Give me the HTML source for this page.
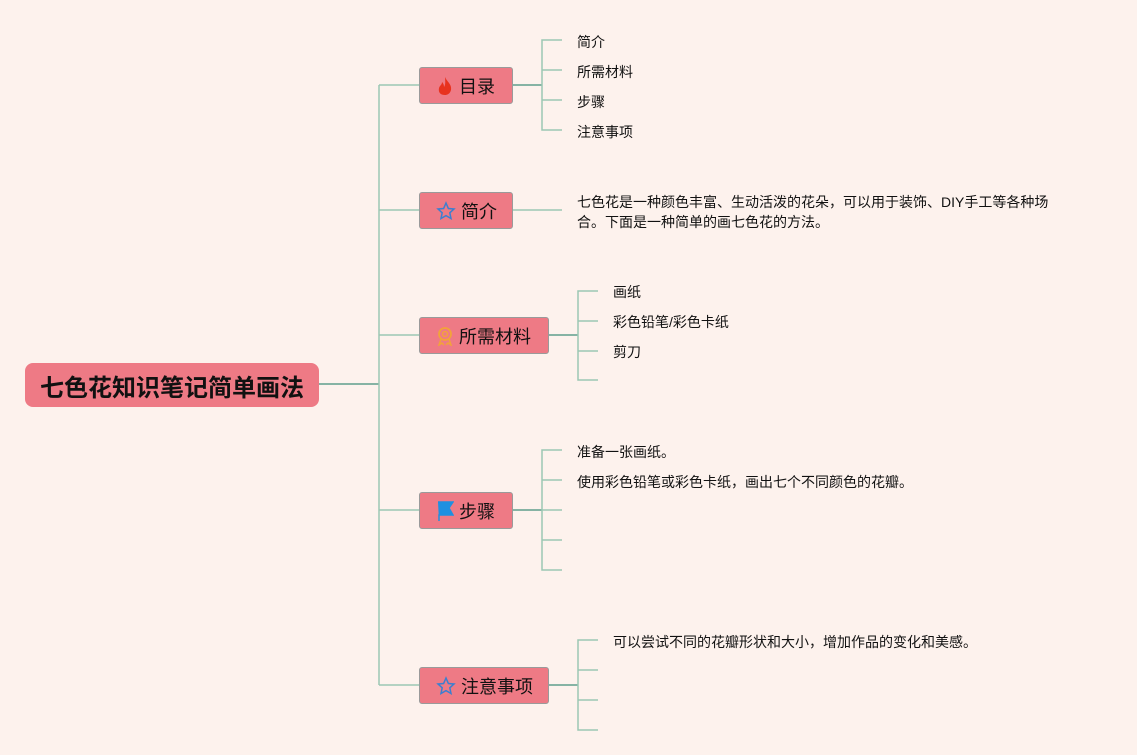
<!DOCTYPE html>
<html><head><meta charset="utf-8"><style>
body{margin:0;width:1137px;height:755px;background:#fdf2ed;position:relative;overflow:hidden;font-family:"Liberation Sans","Noto Sans CJK SC",sans-serif;}
.n{position:absolute;background:#ee7a85;border:1.5px solid #9a9a9a;border-radius:3px;box-sizing:border-box;height:37px;display:flex;align-items:center;padding-left:16px;font-size:18px;color:#111;}
.n svg{margin-right:5px}
.t{position:absolute;font-size:14px;color:#111;line-height:20px;white-space:nowrap;transform:translateY(-9px);}
</style></head><body>
<svg width="1137" height="755" style="position:absolute;left:0;top:0" fill="none" stroke-width="1.5">
<g stroke="#5e9e8c">
<path d="M318 384H379"/>
<path d="M512 85H542M548 335H578M512 510H542M548 685H578"/>
</g>
<g stroke="#9cc7b3">
<path d="M379 85V685M379 85H419M379 210H419M379 335H419M379 510H419M379 685H419"/>
<path d="M562 40H542V130H562M542 70H562M542 100H562"/>
<path d="M512 210H562"/>
<path d="M598 291H578V380H598M578 321H598M578 351H598"/>
<path d="M562 450H542V570H562M542 480H562M542 510H562M542 540H562"/>
<path d="M598 640H578V730H598M578 670H598M578 700H598"/>
</g>
</svg>
<div style="position:absolute;left:25px;top:363px;width:294px;height:44px;background:#ee7a85;border-radius:8px;font-weight:bold;font-size:24px;display:flex;align-items:center;justify-content:center;color:#111;">七色花知识笔记简单画法</div>

<div class="n" style="left:419px;top:67px;width:94px"><svg width="18" height="20" viewBox="0 0 18 20"><path d="M9 1C11 6 16 8 15 14C14 18 11 19 9 19C5 19 2 17 3 12C4 9 6 9 6 6C8 8 8 10 8 11C10 8 9 4 9 1Z" fill="#e8321f"/></svg>目录</div>
<div class="n" style="left:419px;top:192px;width:94px"><svg width="20" height="20" viewBox="0 0 20 20"><path d="M10 2L12.4 7.5L18 8L13.8 11.8L15 17.5L10 14.6L5 17.5L6.2 11.8L2 8L7.6 7.5Z" fill="none" stroke="#3b7fd0" stroke-width="1.5"/></svg>简介</div>
<div class="n" style="left:419px;top:317px;width:130px"><svg width="18" height="20" viewBox="0 0 18 20"><circle cx="9" cy="8" r="6" fill="none" stroke="#f2a33a" stroke-width="1.8"/><circle cx="9" cy="8" r="2.5" fill="none" stroke="#f2a33a" stroke-width="1.5"/><path d="M5 13L3 19L6 17L8 19M13 13L15 19L12 17L10 19" stroke="#f2a33a" stroke-width="1.5" fill="none"/></svg>所需材料</div>
<div class="n" style="left:419px;top:492px;width:94px"><svg width="18" height="22" viewBox="0 0 18 22"><path d="M2 2H17L13 8L17 15H3V21" fill="#1e90e0" stroke="#1e90e0" stroke-width="1.5"/></svg>步骤</div>
<div class="n" style="left:419px;top:667px;width:130px"><svg width="20" height="20" viewBox="0 0 20 20"><path d="M10 2L12.4 7.5L18 8L13.8 11.8L15 17.5L10 14.6L5 17.5L6.2 11.8L2 8L7.6 7.5Z" fill="none" stroke="#3b7fd0" stroke-width="1.5"/></svg>注意事项</div>

<div class="t" style="left:577px;top:41px">简介</div>
<div class="t" style="left:577px;top:71px">所需材料</div>
<div class="t" style="left:577px;top:101px">步骤</div>
<div class="t" style="left:577px;top:131px">注意事项</div>
<div class="t" style="left:577px;top:201px">七色花是一种颜色丰富、生动活泼的花朵，可以用于装饰、DIY手工等各种场</div>
<div class="t" style="left:577px;top:221px">合。下面是一种简单的画七色花的方法。</div>
<div class="t" style="left:613px;top:291px">画纸</div>
<div class="t" style="left:613px;top:321px">彩色铅笔/彩色卡纸</div>
<div class="t" style="left:613px;top:351px">剪刀</div>
<div class="t" style="left:577px;top:451px">准备一张画纸。</div>
<div class="t" style="left:577px;top:481px">使用彩色铅笔或彩色卡纸，画出七个不同颜色的花瓣。</div>
<div class="t" style="left:613px;top:641px">可以尝试不同的花瓣形状和大小，增加作品的变化和美感。</div>
</body></html>
